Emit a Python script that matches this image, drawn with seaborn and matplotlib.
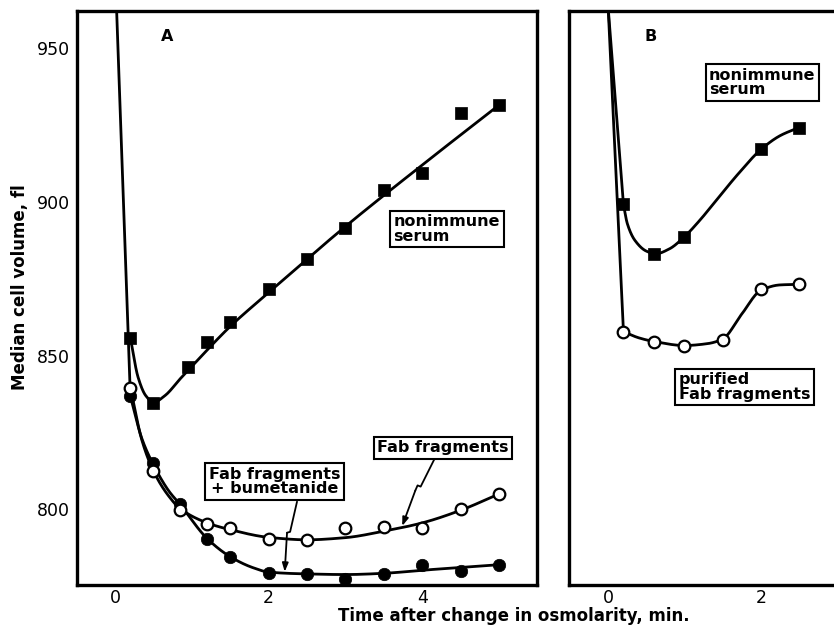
import numpy as np
import matplotlib
matplotlib.use("Agg")
import matplotlib.pyplot as plt
import seaborn as sns

# ---------------- data ----------------
# Panel A
a_circle_time = [0.2, 0.5, 0.85, 1.2, 1.5, 2.0, 2.5, 3.0, 3.5, 4.0, 4.5, 5.0]
a_square_time = [0.2, 0.5, 0.95, 1.2, 1.5, 2.0, 2.5, 3.0, 3.5, 4.0, 4.5, 5.0]
a_nonimmune = [855.8, 834.6, 846.3, 854.4, 860.8, 871.7, 881.3, 891.6, 903.8, 909.3, 929.0, 931.5]
a_fab = [839.6, 812.4, 799.7, 795.2, 793.8, 790.5, 790.0, 793.8, 794.2, 793.8, 800.0, 805.0]
a_fab_bum = [836.8, 815.0, 801.8, 790.3, 784.6, 779.2, 779.0, 777.3, 779.0, 782.0, 780.1, 782.0]

# hand-drawn fitted curves of panel A
a_nonimmune_curve_t = [0.2, 0.3, 0.4, 0.5, 0.65, 0.85, 1.0, 1.5, 2.0, 3.0, 4.0, 5.0]
a_nonimmune_curve_v = [855.8, 843.0, 837.0, 834.8, 837.0, 842.5, 846.5, 859.5, 870.5, 892.0, 912.0, 931.5]
a_fab_curve_t = [0.2, 0.35, 0.5, 0.7, 0.85, 1.2, 1.5, 2.0, 2.5, 3.0, 3.5, 4.0, 4.5, 5.0]
a_fab_curve_v = [839.6, 822.5, 812.5, 804.3, 800.2, 795.6, 793.4, 790.9, 790.1, 790.8, 792.9, 795.6, 799.7, 805.0]
a_bum_curve_t = [0.2, 0.35, 0.5, 0.7, 0.85, 1.2, 1.5, 1.8, 2.0, 2.5, 3.0, 3.5, 4.0, 4.5, 5.0]
a_bum_curve_v = [836.8, 823.0, 814.5, 806.0, 801.5, 790.5, 784.6, 781.0, 779.6, 779.0, 778.8, 779.2, 780.2, 781.1, 782.0]
a_drop_t = [0.0, 0.2]
a_drop_v = [977.0, 836.8]

# Panel B
b_square_time = [0.2, 0.6, 1.0, 2.0, 2.5]
b_nonimmune = [899.2, 883.1, 888.7, 917.1, 924.2]
b_circle_time = [0.2, 0.6, 1.0, 1.5, 2.0, 2.5]
b_fab = [857.8, 854.6, 853.3, 855.2, 871.7, 873.2]

b_nonimmune_curve_t = [0.2, 0.25, 0.35, 0.5, 0.62, 0.8, 1.0, 1.2, 1.4, 1.7, 2.0, 2.25, 2.5]
b_nonimmune_curve_v = [899.2, 893.0, 887.5, 884.0, 883.1, 884.7, 888.7, 894.0, 900.0, 909.0, 917.0, 921.5, 924.2]
b_fab_curve_t = [0.2, 0.4, 0.6, 1.0, 1.3, 1.5, 1.75, 2.0, 2.25, 2.5]
b_fab_curve_v = [857.8, 855.8, 854.6, 853.3, 853.9, 855.4, 863.5, 871.2, 873.0, 873.2]
b_drop1_t = [0.0, 0.2]
b_drop1_v = [963.0, 899.2]
b_drop2_t = [0.0, 0.2]
b_drop2_v = [963.0, 857.8]

# annotation arrows (polyline points, last point = arrow tip)
fab_arrow_t = [4.17, 3.98, 3.94, 3.91, 3.74]
fab_arrow_v = [816.9, 807.4, 807.8, 806.1, 794.6]
bum_arrow_t = [2.37, 2.28, 2.24, 2.21]
bum_arrow_v = [802.5, 792.7, 792.4, 779.7]

y_ticks = [800, 850, 900, 950]

# ---------------- helpers ----------------
def pchip(xk, yk, n=30):
    """Monotone cubic rendering of a drawn curve through its read points."""
    x = np.asarray(xk, float)
    y = np.asarray(yk, float)
    h = np.diff(x)
    d = np.diff(y) / h
    m = np.zeros_like(y)
    for i in range(1, len(x) - 1):
        if d[i - 1] * d[i] > 0:
            w1 = 2 * h[i] + h[i - 1]
            w2 = h[i] + 2 * h[i - 1]
            m[i] = (w1 + w2) / (w1 / d[i - 1] + w2 / d[i])
    m[0] = d[0]
    m[-1] = d[-1]
    xs, ys = [], []
    for i in range(len(x) - 1):
        t = np.linspace(0, 1, n, endpoint=(i == len(x) - 2))
        h00 = 2 * t**3 - 3 * t**2 + 1
        h10 = t**3 - 2 * t**2 + t
        h01 = -2 * t**3 + 3 * t**2
        h11 = t**3 - t**2
        xs.append(x[i] + t * h[i])
        ys.append(h00 * y[i] + h10 * h[i] * m[i] + h01 * y[i + 1] + h11 * h[i] * m[i + 1])
    return np.concatenate(xs), np.concatenate(ys)


def draw_line(ax, xs, ys, lw=2.0):
    sns.lineplot(x=list(xs), y=list(ys), ax=ax, color="black", linewidth=lw,
                 estimator=None, sort=False, legend=False)


def draw_curve(ax, xk, yk):
    xs, ys = pchip(xk, yk)
    draw_line(ax, xs, ys)


def squares(ax, xs, ys):
    sns.scatterplot(x=xs, y=ys, ax=ax, marker="s", s=78, color="black",
                    edgecolor="black", linewidth=0.5, zorder=5, legend=False)


def filled_circles(ax, xs, ys):
    sns.scatterplot(x=xs, y=ys, ax=ax, marker="o", s=80, color="black",
                    edgecolor="black", linewidth=0.5, zorder=5, legend=False)


def open_circles(ax, xs, ys):
    sns.scatterplot(x=xs, y=ys, ax=ax, marker="o", s=70, color="white",
                    edgecolor="black", linewidth=1.6, zorder=6, legend=False)


def boxed(ax, x, y, s, align="left"):
    ax.text(x, y, s, ha="center", va="center", multialignment=align,
            fontsize=11.5, fontweight="bold", linespacing=0.95, zorder=8,
            color="black",
            bbox=dict(boxstyle="square,pad=0.22", fc="white", ec="black", lw=1.5))


def arrow(ax, ts, vs):
    draw_line(ax, ts[:-1], vs[:-1], lw=1.3)
    ax.annotate("", xy=(ts[-1], vs[-1]), xytext=(ts[-2], vs[-2]),
                arrowprops=dict(arrowstyle="-|>,head_length=0.5,head_width=0.18",
                                color="black", lw=1.3, shrinkA=0, shrinkB=0),
                zorder=7)


def style_axes(ax):
    for sp in ax.spines.values():
        sp.set_linewidth(2.4)
        sp.set_color("black")
    ax.tick_params(axis="both", which="major", direction="in", length=14, width=2,
                   colors="black", labelcolor="black", labelsize=12.5)
    ax.tick_params(axis="x", which="major", pad=3)
    ax.tick_params(axis="y", which="major", pad=5)
    ax.tick_params(axis="x", which="minor", direction="in", length=9, width=2,
                   colors="black")
    ax.tick_params(axis="y", which="minor", length=0)
    ax.set_yticks(y_ticks)
    ax.set_xlabel("")
    ax.set_ylabel("")


# ---------------- figure ----------------
sns.set_style("white")
plt.rcParams["font.family"] = ["DejaVu Sans"]
plt.rcParams.update({"text.color": "black", "axes.labelcolor": "black",
                     "xtick.color": "black", "ytick.color": "black"})

W, H = 834, 629
fig = plt.figure(figsize=(W / 100, H / 100), dpi=100)

axA = fig.add_axes([77 / W, (H - 585) / H, (537 - 77) / W, (585 - 11) / H])
axB = fig.add_axes([569.3 / W, (H - 585) / H, (850 - 569.3) / W, (585 - 11) / H])

# Panel A
draw_line(axA, a_drop_t, a_drop_v)
draw_curve(axA, a_nonimmune_curve_t, a_nonimmune_curve_v)
draw_curve(axA, a_fab_curve_t, a_fab_curve_v)
draw_curve(axA, a_bum_curve_t, a_bum_curve_v)
squares(axA, a_square_time, a_nonimmune)
filled_circles(axA, a_circle_time, a_fab_bum)
open_circles(axA, a_circle_time, a_fab)
arrow(axA, fab_arrow_t, fab_arrow_v)
arrow(axA, bum_arrow_t, bum_arrow_v)
boxed(axA, 4.32, 891.2, "nonimmune\nserum")
boxed(axA, 4.27, 820.0, "Fab fragments")
boxed(axA, 2.08, 809.1, "Fab fragments\n+ bumetanide", align="center")
axA.text(0.68, 953.7, "A", ha="center", va="center", fontsize=11.5,
         fontweight="bold", color="black")

axA.set_xlim(-0.495, 5.495)
axA.set_ylim(775.4, 962.1)
axA.set_xticks([0, 2, 4])
axA.set_xticks([1, 3, 5], minor=True)
style_axes(axA)

# Panel B
draw_line(axB, b_drop1_t, b_drop1_v)
draw_line(axB, b_drop2_t, b_drop2_v)
draw_curve(axB, b_nonimmune_curve_t, b_nonimmune_curve_v)
draw_curve(axB, b_fab_curve_t, b_fab_curve_v)
squares(axB, b_square_time, b_nonimmune)
open_circles(axB, b_circle_time, b_fab)
boxed(axB, 2.02, 938.8, "nonimmune\nserum")
boxed(axB, 1.79, 839.8, "purified\nFab fragments")
axB.text(0.55, 953.7, "B", ha="center", va="center", fontsize=11.5,
         fontweight="bold", color="black")

axB.set_xlim(-0.51, 3.17)
axB.set_ylim(775.4, 962.1)
axB.set_xticks([0, 2])
axB.set_xticks([1], minor=True)
style_axes(axB)
axB.set_yticklabels([])
axB.spines["right"].set_visible(False)

fig.text(514 / W, 1 - 616 / H, "Time after change in osmolarity, min.",
         ha="center", va="center", fontsize=12, fontweight="bold", color="black")
fig.text(20 / W, 1 - 287 / H, "Median cell volume, fl", rotation=90,
         ha="center", va="center", fontsize=12, fontweight="bold", color="black")

fig.savefig("out.png", dpi=100, facecolor="white")
